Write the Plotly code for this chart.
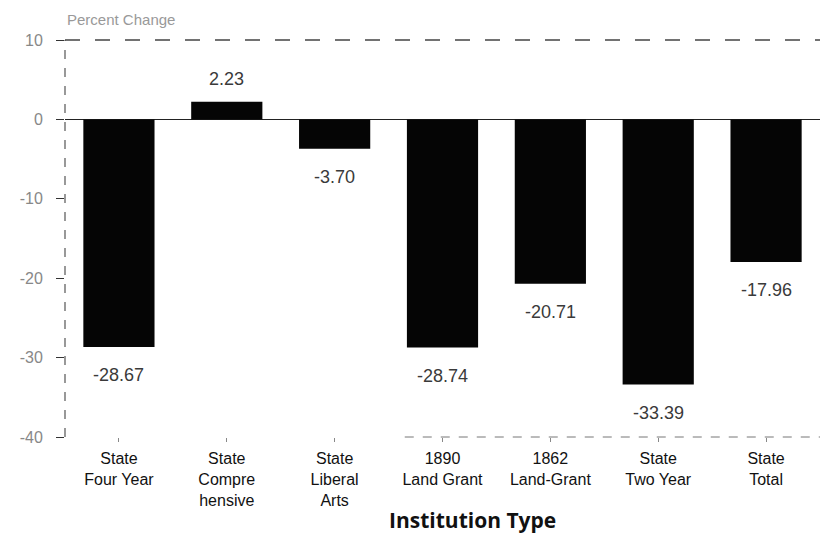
import plotly.graph_objects as go

# Percent change by institution type
categories = [
    "State<br>Four Year",
    "State<br>Compre<br>hensive",
    "State<br>Liberal<br>Arts",
    "1890<br>Land Grant",
    "1862<br>Land-Grant",
    "State<br>Two Year",
    "State<br>Total",
]
pct_change = [-28.67, 2.23, -3.70, -28.74, -20.71, -33.39, -17.96]
y_ticks = [10, 0, -10, -20, -30, -40]

FONT = "Liberation Sans, Arial, sans-serif"

fig = go.Figure(
    go.Bar(
        x=categories,
        y=pct_change,
        width=0.66,
        marker=dict(color="#050505", line=dict(width=0)),
        hoverinfo="skip",
    )
)

# value labels: above positive bars, below negative bars
for cat, v in zip(categories, pct_change):
    fig.add_annotation(
        x=cat, y=v, text=f"{v:.2f}", showarrow=False,
        yanchor="bottom" if v >= 0 else "top",
        yshift=11 if v >= 0 else -16,
        font=dict(family=FONT, size=18, color="#3a3a3a"),
    )

# dashed frame lines
fig.add_shape(type="line", xref="paper", yref="paper", x0=0, x1=0, y0=0, y1=1,
              line=dict(color="#555555", width=1.2, dash="dash"))
fig.add_shape(type="line", xref="paper", yref="paper", x0=0, x1=1, y0=1, y1=1,
              line=dict(color="#444444", width=1.4, dash="longdash"))
fig.add_shape(type="line", xref="paper", yref="paper", x0=0.45, x1=1, y0=0, y1=0,
              line=dict(color="#777777", width=1, dash="dash"))

# axis heading at top-left
fig.add_annotation(
    xref="paper", yref="paper", x=0.0, y=1.0, xanchor="left", yanchor="bottom",
    yshift=10, text="Percent Change", showarrow=False,
    font=dict(family=FONT, size=15, color="#999999"),
)

# x-axis heading below the category labels
fig.add_annotation(
    xref="paper", yref="paper", x=0.54, y=0, xanchor="center", yanchor="middle",
    yshift=-83, text="<b>Institution Type</b>", showarrow=False,
    font=dict(family="Open Sans, Liberation Sans, sans-serif", size=21, color="#111111"),
)

fig.update_layout(
    width=820, height=538,
    margin=dict(l=65, r=0, t=40, b=101),
    paper_bgcolor="white", plot_bgcolor="white",
    showlegend=False,
    bargap=0.34,
    xaxis=dict(
        range=[-0.5, 6.5],
        showline=False, showgrid=False, zeroline=False,
        ticks="outside", ticklen=4, tickcolor="#888888",
        ticklabelstandoff=3,
        tickfont=dict(family=FONT, size=16, color="#111111"),
    ),
    yaxis=dict(
        range=[-40, 10],
        tickvals=y_ticks,
        ticktext=[str(t) for t in y_ticks],
        showline=False, showgrid=False,
        zeroline=True, zerolinecolor="#222222", zerolinewidth=1.2,
        ticks="outside", ticklen=8, tickcolor="#333333",
        ticklabelstandoff=10,
        tickfont=dict(family=FONT, size=16, color="#888888"),
    ),
)

fig.write_html("out.html")
